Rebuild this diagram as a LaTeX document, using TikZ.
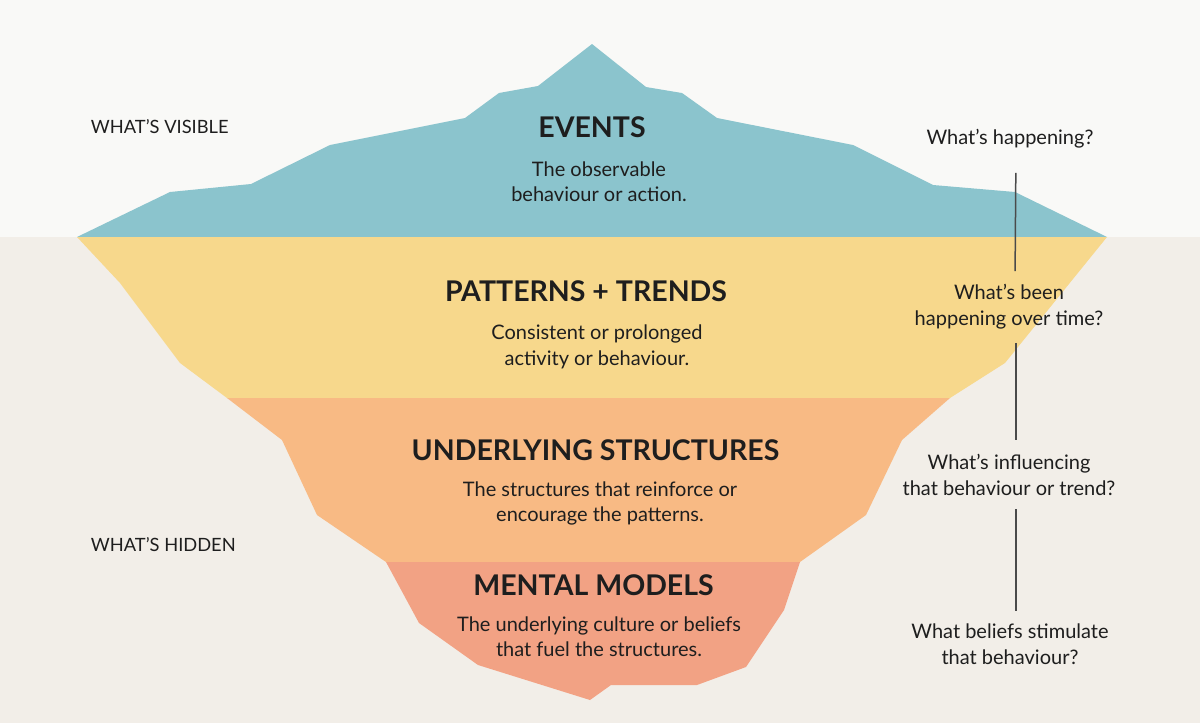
\documentclass[tikz,border=0pt]{standalone}
\usepackage{fontspec}
\setmainfont{Lato}
\usepackage{tikz}
\usetikzlibrary{positioning,calc}
\definecolor{sky}{HTML}{F9F9F7}
\definecolor{sea}{HTML}{F2EEE8}
\definecolor{iceteal}{HTML}{8BC4CD}
\definecolor{iceyellow}{HTML}{F7D88C}
\definecolor{iceorange}{HTML}{F8BA84}
\definecolor{icesalmon}{HTML}{F2A284}
\definecolor{ink}{HTML}{1E1E1E}
\definecolor{rulegray}{HTML}{4A4A4A}
\tikzset{
	iceberg/.style={
		x=1pt,y=-1pt, % pixel grid, y pointing down
		text=ink,
		every node/.style={inner sep=0pt}
	},
	layer/.style={
		fill=#1,
		draw=none
	},
	level title/.style={
		anchor=base,
		font=\fontsize{28.5}{32}\selectfont\bfseries
	},
	level text/.style={% base is the last line
		anchor=base,
		align=center,
		font=\fontsize{20}{25.5}\selectfont
	},
	side label/.style={
		anchor=base west,
		font=\fontsize{18.3}{25}\selectfont
	},
	question/.style={% base is the last line
		anchor=base,
		align=center,
		font=\fontsize{20}{25.5}\selectfont
	},
	link/.style={
		draw=rulegray,
		line width=1.5pt
	}
}

\begin{document}
\begin{tikzpicture}[iceberg]
	\useasboundingbox (0,0) rectangle (1200,723);
	% water line
	\fill[sky] (0,0) rectangle (1200,237);
	\fill[sea] (0,237) rectangle (1200,723);
	% iceberg layers
	\fill[layer=iceteal] (77,237) -- (170,192) -- (251,184) -- (330,145) -- (465,118) -- (499,93) -- (538,86) -- (592,44)
		-- (646,87) -- (682,93) -- (717,118) -- (853,145) -- (933,185) -- (1015,192) -- (1107,237) -- cycle;
	\fill[layer=iceyellow] (77,237) -- (1107,237) -- (1005,363) -- (950,398) -- (227,398) -- (180,363) -- (120,283) -- cycle;
	\fill[layer=iceorange] (227,398) -- (950,398) -- (902,440) -- (866,515) -- (800,562) -- (386,562) -- (317,515) -- (282,440) -- cycle;
	\fill[layer=icesalmon] (386,562) -- (800,562) -- (784,610) -- (746,667) -- (697,685) -- (611,685) -- (590,700) -- (478,665) -- (419,623) -- cycle;
	% levels
	\node[level title] (events) at (592,137.3) {EVENTS};
	\node[level text] (eventstext) at (599,201.7) {The observable\\behaviour or action.};
	\node[level title] (patterns) at (586,301) {PATTERNS + TRENDS};
	\node[level text] (patternstext) at (597,365) {Consistent or prolonged\\activity or behaviour.};
	\node[level title] (structures) at (595.5,460) {UNDERLYING STRUCTURES};
	\node[level text] (structurestext) at (600,521.7) {The structures that reinforce or\\encourage the patterns.};
	\node[level title] (models) at (593.6,595) {MENTAL MODELS};
	\node[level text] (modelstext) at (599,656.7) {The underlying culture or beliefs\\that fuel the structures.};
	% left side
	\node[side label] (visible) at (90.7,133.3) {WHAT’S VISIBLE};
	\node[side label] (hidden) at (90.7,551.7) {WHAT’S HIDDEN};
	% right side
	\node[question] (q1) at (1010,144) {What’s happening?};
	\node[question] (q2) at (1009,325) {What’s been\\happening over time?};
	\node[question] (q3) at (1009,495) {What’s influencing\\that behaviour or trend?};
	\node[question] (q4) at (1010,664.3) {What beliefs stimulate\\that behaviour?};
	\draw[link,shorten <=25pt,shorten >=13pt] ([xshift=6pt]q1.south) -- ([xshift=6pt]q2.north);
	\draw[link,shorten <=14pt,shorten >=14pt] ([xshift=7pt]q2.south) -- ([xshift=7pt]q3.north);
	\draw[link,shorten <=14pt,shorten >=13pt] ([xshift=7pt]q3.south) -- ([xshift=6pt]q4.north);
\end{tikzpicture}
\end{document}
